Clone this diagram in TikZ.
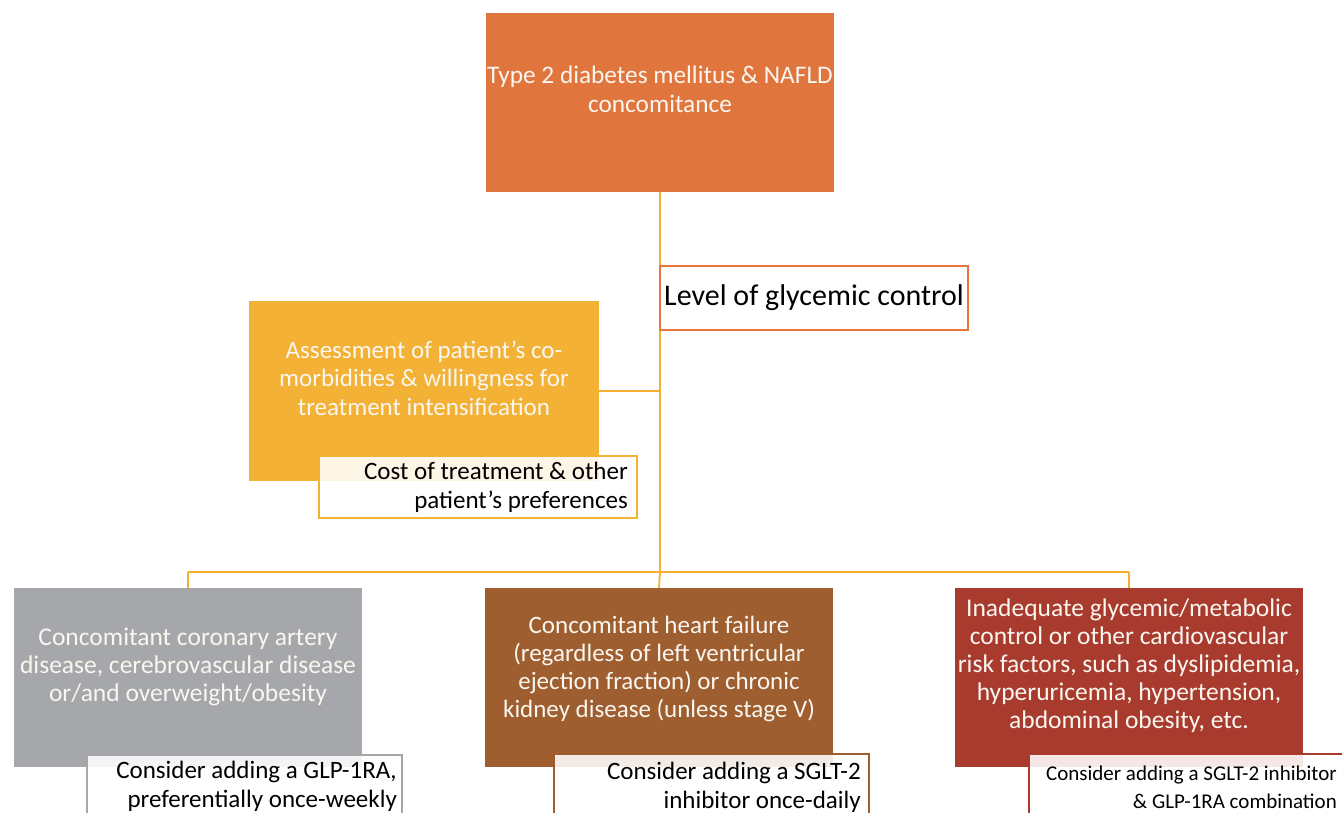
\documentclass[tikz,border=0pt]{standalone}
\usepackage{fontspec}
\setmainfont{Carlito}
\definecolor{topc}{RGB}{224,118,62}
\definecolor{linec}{RGB}{245,176,50}
\definecolor{levc}{RGB}{232,116,64}
\definecolor{yelc}{RGB}{243,178,54}
\definecolor{grayc}{RGB}{165,167,170}
\definecolor{brownc}{RGB}{158,94,47}
\definecolor{redc}{RGB}{168,59,46}
\definecolor{wtc}{RGB}{250,246,240}
\begin{document}
\begin{tikzpicture}[x=1pt,y=-1pt,
  bigbox/.style={draw=none, inner sep=0, minimum width=348, minimum height=179},
  wtxt/.style={text=wtc, align=center, font=\fontsize{25}{28}\selectfont, inner sep=0, anchor=base},
  subbox/.style={line width=1.5, fill=white, fill opacity=0.88, inner sep=0, anchor=north west},
  btxt/.style={text=black, align=right, font=\fontsize{25}{28.5}\selectfont, inner sep=0, anchor=base east},
  conn/.style={draw=linec, line width=1.8}
]
\useasboundingbox (0,0) rectangle (1342,812);
\clip (0,0) rectangle (1342,812);

% top box
\node[bigbox, fill=topc] (top) at (660,102.5) {};
\node[wtxt, font=\fontsize{25.3}{29}\selectfont] (toptxt) at (660,112) {Type 2 diabetes mellitus \& NAFLD\\concomitance};

% connectors
\coordinate (branch) at (660,572);
\coordinate (bl) at (188,572);
\coordinate (br) at (1129,572);
\coordinate (yj) at (660,391);
\draw[conn] (top.south) -- (branch);

% yellow box
\node[bigbox, fill=yelc, minimum width=350, minimum height=180] (yel) at (424,391) {};
\node[wtxt, font=\fontsize{25}{28.3}\selectfont] (yeltxt) at (424,415) {Assessment of patient’s co-\\morbidities \& willingness for\\treatment intensification};
\draw[conn] (yel.east |- yj) -- (yj);

% level box
\node[draw=levc, line width=1.6, fill=white, minimum width=308, minimum height=64, inner sep=0] (level) at (814,298) {};
\node[text=black, inner sep=0, anchor=base, font=\fontsize{30}{32}\selectfont] (leveltxt) at (814,305) {Level of glycemic control};

% cost box
\node[subbox, draw=yelc, minimum width=318, minimum height=62] (cost) at (318,455) {};
\node[btxt] (costtxt) at (628,508) {Cost of treatment \& other\\patient’s preferences};

% branches
\node[bigbox, fill=grayc] (gray) at (188,677.5) {};
\node[bigbox, fill=brownc] (brown) at (659,677.5) {};
\node[bigbox, fill=redc] (red) at (1129,677.5) {};
\draw[conn] (bl) -- (br);
\draw[conn] (bl) -- (gray.north);
\draw[conn] (branch) -- (brown.north);
\draw[conn] (br) -- (red.north);

\node[wtxt, font=\fontsize{25.5}{28}\selectfont] (graytxt) at (188,701) {Concomitant coronary artery\\disease, cerebrovascular disease\\or/and overweight/obesity};
\node[wtxt] (browntxt) at (659,717) {Concomitant heart failure\\(regardless of left ventricular\\ejection fraction) or chronic\\kidney disease (unless stage V)};
\node[wtxt, font=\fontsize{25.5}{27.8}\selectfont] (redtxt) at (1129,728) {Inadequate glycemic/metabolic\\control or other cardiovascular\\risk factors, such as dyslipidemia,\\hyperuricemia, hypertension,\\abdominal obesity, etc.};

% sub boxes
\node[subbox, draw=grayc, minimum width=315, minimum height=80] (gsub) at (86,754) {};
\node[btxt] (gsubtxt) at (397,807) {Consider adding a GLP-1RA,\\preferentially once-weekly};
\node[subbox, draw=brownc, minimum width=315, minimum height=80] (bsub) at (553,753) {};
\node[btxt] (bsubtxt) at (861,808) {Consider adding a SGLT-2\\inhibitor once-daily};
\node[subbox, draw=redc, minimum width=320, minimum height=80] (rsub) at (1028,753) {};
\node[btxt, font=\fontsize{21}{28}\selectfont] (rsubtxt) at (1337,808) {Consider adding a SGLT-2 inhibitor\\\& GLP-1RA combination};
\end{tikzpicture}
\end{document}
